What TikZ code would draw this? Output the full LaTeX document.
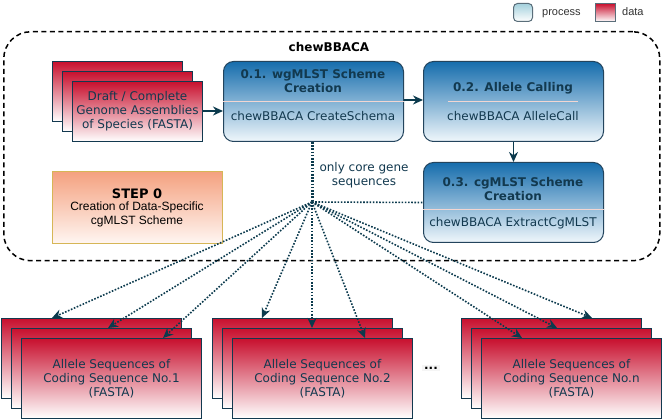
\documentclass[tikz,border=0pt]{standalone}
\usepackage{fontspec}
\setmainfont{DejaVu Sans}
\newfontfamily\arialf{Liberation Sans}
\usetikzlibrary{arrows.meta,calc}
\definecolor{navy}{HTML}{12394F}
\definecolor{edgec}{HTML}{0B3A4D}
\definecolor{procTop}{HTML}{166DAD}
\definecolor{procBot}{HTML}{F0F7FB}
\definecolor{procBorder}{HTML}{23445D}
\definecolor{dataTop}{HTML}{C8102E}
\definecolor{dataBot}{HTML}{FFFFFF}
\definecolor{sepc}{HTML}{F2D6D2}
\definecolor{stepTop}{HTML}{F4A17F}
\definecolor{stepBot}{HTML}{FFF6F2}
\definecolor{stepBorder}{HTML}{D6B656}
\definecolor{legTop}{HTML}{A3D0DC}
\definecolor{legBorder}{HTML}{5A6E7A}
\tikzset{
  card/.style={draw=navy, line width=1pt, top color=dataTop, bottom color=dataBot,
    anchor=north west, inner sep=0pt, minimum width=#1},
  card/.default=180pt,
  procbox/.style={draw=procBorder, line width=1pt, rounded corners=10pt,
    top color=procTop, bottom color=procBot, anchor=north west, inner sep=0pt,
    minimum width=180pt, minimum height=80pt},
  sepline/.style={draw=sepc, line width=1pt},
  ttl/.style={font=\fontsize{12}{14}\selectfont\bfseries, text=navy, align=center},
  bodyt/.style={font=\fontsize{12}{14}\selectfont, text=navy, align=center},
  arr/.style={draw=edgec, line width=1.5pt, -{Stealth[length=10pt,width=9pt]}},
  dotarr/.style={draw=edgec, line width=1.6pt, dash pattern=on 1.6pt off 1.6pt,
    -{Stealth[length=10pt,width=9pt]}},
}
\begin{document}
\begin{tikzpicture}[x=1pt,y=-1pt]
\path[use as bounding box, fill=white] (0,0) rectangle (662,419);

% legend
\node[draw=legBorder, line width=1pt, rounded corners=4pt, top color=legTop, bottom color=white,
  minimum width=19pt, minimum height=18pt, inner sep=0pt, anchor=north west] (legp) at (513,3) {};
\node[font=\arialf\fontsize{11}{13}\selectfont, text=black!80, anchor=base west, inner sep=0pt] (legpt) at (542,16) {process};
\node[draw=legBorder, line width=1pt, top color=dataTop, bottom color=white,
  minimum width=20pt, minimum height=18pt, inner sep=0pt, anchor=north west] (legd) at (595,3) {};
\node[font=\arialf\fontsize{11}{13}\selectfont, text=black!80, anchor=base west, inner sep=0pt] (legdt) at (622,16) {data};

% container
\node[draw=black, line width=1.5pt, dash pattern=on 5pt off 3.5pt, rounded corners=27pt,
  minimum width=656pt, minimum height=229pt, anchor=north west, inner sep=0pt] (chew) at (3,31) {};
\node[font=\fontsize{12}{14}\selectfont\bfseries] (chewt) at (329,47) {chewBBACA};

% input genome stack
\node[card=130pt, minimum height=60pt] (g1) at (52,61) {};
\node[card=130pt, minimum height=60pt] (g2) at (62,71) {};
\node[card=130pt, minimum height=60pt] (g3) at (72,81) {};
\node[bodyt] (g3t) at (g3.center) {Draft / Complete\\Genome Assemblies\\of Species (FASTA)};

% process boxes
\node[procbox] (wg) at (223,61) {};
\node[ttl] (wgt) at (313,81) {0.1. wgMLST Scheme\\Creation};
\draw[sepline] (wg.west |- 0,102) -- (wg.east |- 0,102);
\node[bodyt] (wgb) at (313,116) {chewBBACA CreateSchema};

\node[procbox] (ac) at (423,61) {};
\node[ttl] (act) at (513,88) {0.2. Allele Calling};
\draw[sepline] (448,102) -- (578,102);
\node[bodyt] (acb) at (513,116) {chewBBACA AlleleCall};

\node[procbox] (cg) at (423,162) {};
\node[ttl] (cgt) at (513,189) {0.3. cgMLST Scheme\\Creation};
\draw[sepline] (cg.west |- 0,210) -- (cg.east |- 0,210);
\node[bodyt] (cgb) at (513,223) {chewBBACA ExtractCgMLST};

% step 0
\node[draw=stepBorder, line width=1pt, top color=stepTop, bottom color=stepBot,
  minimum width=170pt, minimum height=72pt, inner sep=0pt, anchor=north west] (step) at (52,171) {};
\node[font=\fontsize{13}{15}\selectfont\bfseries, anchor=base, inner sep=0pt] (stept) at (137,199) {STEP 0};
\node[font=\arialf\fontsize{12}{14}\selectfont, align=center, anchor=north, inner sep=0pt] (stepb) at (137,202) {Creation of Data-Specific\\cgMLST Scheme};

% solid arrows
\draw[arr] (g3.east |- 0,111) -- (wg.west |- 0,111);
\draw[arr] (wg.east |- 0,100) -- (ac.west |- 0,100);
\draw[arr] (ac.south) -- (cg.north);

% bottom stacks
\node[card, minimum height=80pt] (s1a) at (1,318) {};
\node[card, minimum height=80pt] (s1b) at (11,328) {};
\node[card, minimum height=80pt] (s1c) at (21,338) {};
\node[bodyt] (s1t) at (s1c.center) {Allele Sequences of\\Coding Sequence No.1\\(FASTA)};

\node[card, minimum height=80pt] (s2a) at (212,318) {};
\node[card, minimum height=80pt] (s2b) at (222,328) {};
\node[card, minimum height=80pt] (s2c) at (232,338) {};
\node[bodyt] (s2t) at (s2c.center) {Allele Sequences of\\Coding Sequence No.2\\(FASTA)};

\node[card, minimum height=80pt] (s3a) at (461,318) {};
\node[card, minimum height=80pt] (s3b) at (471,328) {};
\node[card, minimum height=80pt] (s3c) at (481,338) {};
\node[bodyt] (s3t) at (s3c.center) {Allele Sequences of\\Coding Sequence No.n\\(FASTA)};

\node[fill=black!4, font=\fontsize{12}{14}\selectfont\bfseries, inner sep=2pt] (dots) at (431,368) {...};

% dotted connectors
\coordinate (J) at (312,202);
\draw[draw=edgec, line width=3pt, dash pattern=on 1.6pt off 1.6pt] (wg.south -| J) -- (J);
\draw[draw=edgec, line width=1.6pt, dash pattern=on 1.6pt off 1.6pt] (J) -- (cg.west);
\node[bodyt, anchor=west] (core) at (316,175) {only core gene\\sequences};

\draw[dotarr] (J) -- ([xshift=51pt]s1a.north west);
\draw[dotarr] (J) -- ([xshift=97pt]s1b.north west);
\draw[dotarr] (J) -- ([xshift=142pt]s1c.north west);
\draw[dotarr] (J) -- ([xshift=50pt]s2a.north west);
\draw[dotarr] (J) -- ([xshift=90pt]s2b.north west);
\draw[dotarr] (J) -- ([xshift=133pt]s2c.north west);
\draw[dotarr] (J) -- ([xshift=131pt]s3a.north west);
\draw[dotarr] (J) -- ([xshift=86pt]s3b.north west);
\draw[dotarr] (J) -- ([xshift=41pt]s3c.north west);
\end{tikzpicture}
\end{document}
